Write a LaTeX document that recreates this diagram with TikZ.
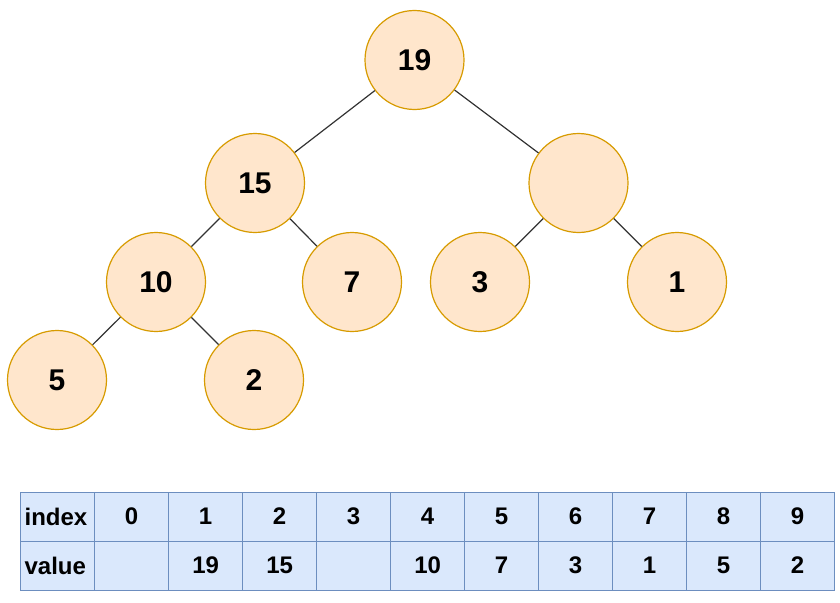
\documentclass[tikz,border=0pt]{standalone}
\usepackage{fontspec}
\setmainfont{Liberation Sans}
\definecolor{nodefill}{HTML}{FFE6CC}
\definecolor{nodeline}{HTML}{D79B00}
\definecolor{cellfill}{HTML}{DAE8FC}
\definecolor{cellline}{HTML}{6C8EBF}
\definecolor{edgecol}{HTML}{333333}
\begin{document}
\begin{tikzpicture}[x=1pt,y=-1pt,
  heapnode/.style={circle,draw=nodeline,fill=nodefill,line width=1.2pt,minimum size=99pt,inner sep=0pt,font=\fontsize{30}{30}\selectfont\bfseries},
  heapedge/.style={draw=edgecol,line width=1.2pt},
  cell/.style={draw=cellline,fill=cellfill,line width=1.2pt,minimum width=74pt,minimum height=49pt,inner sep=0pt,anchor=north west,font=\fontsize{24}{24}\selectfont\bfseries},
  headcell/.style={cell,text width=66pt,align=left}]
\useasboundingbox (0,0) rectangle (840,602);
% tree nodes
\node[heapnode] (n19) at (414.5,60) {19};
\node[heapnode] (n15) at (255,183) {15};
\node[heapnode] (nE) at (578.5,183) {};
\node[heapnode] (n10) at (156,282) {10};
\node[heapnode] (n7) at (352,282) {7};
\node[heapnode] (n3) at (480,282) {3};
\node[heapnode] (n1) at (677,282) {1};
\node[heapnode] (n5) at (57,380) {5};
\node[heapnode] (n2) at (254,380) {2};
% edges
\draw[heapedge] (n19) -- (n15);
\draw[heapedge] (n19) -- (nE);
\draw[heapedge] (n15) -- (n10);
\draw[heapedge] (n15) -- (n7);
\draw[heapedge] (nE) -- (n3);
\draw[heapedge] (nE) -- (n1);
\draw[heapedge] (n10) -- (n5);
\draw[heapedge] (n10) -- (n2);
% table
\node[headcell] (hi) at (20,491.5) {index};
\node[headcell] (hv) at (20,540.5) {value};
\foreach \i/\v in {0/,1/19,2/15,3/,4/10,5/7,6/3,7/1,8/5,9/2}{
  \node[cell] (ci\i) at ({94+74*\i},491.5) {\i};
  \node[cell] (cv\i) at ({94+74*\i},540.5) {\v};
}
\end{tikzpicture}
\end{document}
